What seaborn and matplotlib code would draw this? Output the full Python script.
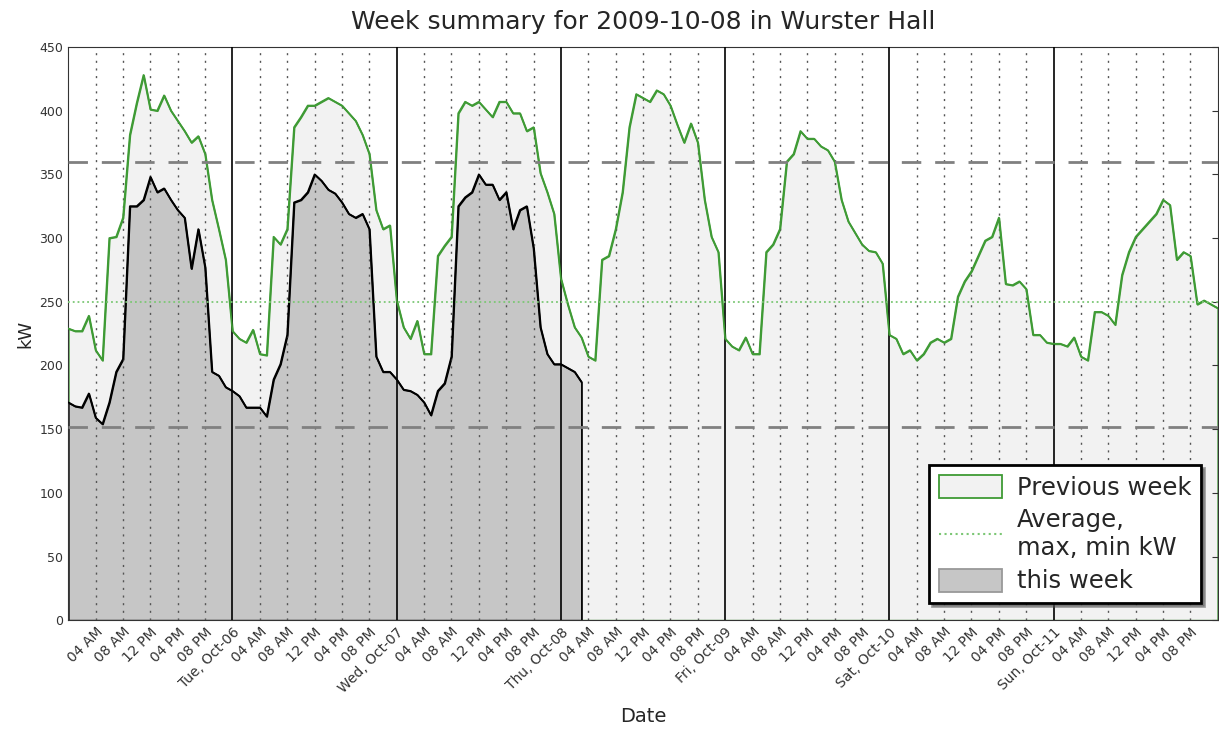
import numpy as np
import pandas as pd
import matplotlib
matplotlib.use("Agg")
import matplotlib.pyplot as plt
import matplotlib.dates as mdates
import matplotlib.ticker as mticker
from matplotlib.patches import Patch
from matplotlib.lines import Line2D
import seaborn as sns

sns.set_style("white")
plt.rcParams['font.family'] = ['DejaVu Sans']

# previous week, hourly kW (Mon 00:00 .. Mon 00:00 next week)
prev_mon = [229, 227, 227, 239, 212, 204, 300, 301, 316, 381, 406, 428, 401, 400, 412, 400, 392, 384, 375, 380, 366, 330, 307, 283]
prev_tue = [227, 221, 218, 228, 209, 208, 301, 295, 307, 387, 395, 404, 404, 407, 410, 407, 404, 398, 392, 381, 366, 322, 307, 310]
prev_wed = [251, 230, 221, 235, 209, 209, 286, 294, 301, 398, 407, 404, 407, 401, 395, 407, 407, 398, 398, 384, 387, 351, 336, 319]
prev_thu = [268, 248, 230, 222, 207, 204, 283, 286, 307, 336, 387, 413, 410, 407, 416, 413, 404, 389, 375, 390, 375, 330, 301, 289]
prev_fri = [221, 215, 212, 222, 209, 209, 289, 295, 307, 360, 366, 384, 378, 378, 372, 369, 360, 330, 313, 304, 295, 290, 289, 280]
prev_sat = [224, 221, 209, 212, 204, 209, 218, 221, 218, 221, 254, 266, 274, 286, 298, 301, 316, 264, 263, 266, 260, 224, 224, 218]
prev_sun = [217, 217, 215, 222, 207, 204, 242, 242, 239, 232, 271, 289, 301, 307, 313, 319, 330, 326, 283, 289, 286, 248, 251, 248]
prev_end = [245]

# this week, hourly kW (Mon 00:00 .. Thu 03:00)
this_mon = [171, 168, 167, 178, 159, 154, 171, 195, 205, 325, 325, 330, 348, 336, 339, 330, 322, 316, 276, 307, 277, 195, 192, 183]
this_tue = [180, 176, 167, 167, 167, 160, 189, 201, 224, 328, 330, 336, 350, 345, 338, 335, 328, 319, 316, 319, 307, 207, 195, 195]
this_wed = [189, 181, 180, 177, 171, 161, 180, 186, 207, 325, 332, 336, 350, 342, 342, 330, 336, 307, 322, 325, 292, 230, 209, 201]
this_thu = [201, 198, 195, 187]

avg_kw = 250
max_kw = 360
min_kw = 152

day_labels = ["Tue, Oct-06", "Wed, Oct-07", "Thu, Oct-08", "Fri, Oct-09", "Sat, Oct-10", "Sun, Oct-11"]

prev = prev_mon + prev_tue + prev_wed + prev_thu + prev_fri + prev_sat + prev_sun + prev_end
this = this_mon + this_tue + this_wed + this_thu

t_prev = pd.date_range("2009-10-05", periods=len(prev), freq="h")
t_this = pd.date_range("2009-10-05", periods=len(this), freq="h")
df_prev = pd.DataFrame({"time": t_prev, "kW": prev})
df_this = pd.DataFrame({"time": t_this, "kW": this})

green = "#3f9b35"
fig = plt.figure(figsize=(12.19, 7.34), dpi=100)
ax = fig.add_axes([0.056, 0.155, 0.943, 0.781])

ax.fill_between(df_prev["time"], 0, df_prev["kW"], facecolor="#f2f2f2",
                edgecolor=green, linewidth=1.3, zorder=1)
ax.fill_between(df_this["time"], 0, df_this["kW"], facecolor="#c6c6c6",
                edgecolor="black", linewidth=1.3, zorder=2)
sns.lineplot(data=df_prev, x="time", y="kW", color=green, linewidth=1.3, ax=ax, zorder=3)
sns.lineplot(data=df_this, x="time", y="kW", color="black", linewidth=1.3, ax=ax, zorder=3)

ax.axhline(max_kw, color="#808080", linestyle=(0, (7, 5)), linewidth=2, zorder=4)
ax.axhline(min_kw, color="#808080", linestyle=(0, (7, 5)), linewidth=2, zorder=4)
ax.axhline(avg_kw, color="#7cc775", linestyle=":", linewidth=1.3, zorder=4)

# day boundaries and 4-hour grid
days = pd.date_range("2009-10-06", periods=len(day_labels), freq="D")
ax.xaxis.set_major_locator(mticker.FixedLocator(mdates.date2num(days)))
ax.xaxis.set_major_formatter(mticker.FixedFormatter(day_labels))
ax.xaxis.set_minor_locator(mdates.HourLocator(byhour=[4, 8, 12, 16, 20]))
ax.xaxis.set_minor_formatter(mdates.DateFormatter("%I %p"))
ax.grid(which="major", axis="x", color="black", linestyle="-", linewidth=1.2, zorder=5)
ax.grid(which="minor", axis="x", color="#555555", linestyle=(0, (1.5, 4)), linewidth=1.0, zorder=5)
ax.grid(which="major", axis="y", visible=False)
ax.set_axisbelow(False)

ax.set_xlim(t_prev[0], t_prev[-1])
ax.set_ylim(0, 450)
ax.set_yticks(np.arange(0, 451, 50))

ax.tick_params(axis="both", which="both", direction="in", colors="#333333",
               top=False, right=True, length=4)
ax.tick_params(axis="y", labelsize=9)
ax.tick_params(axis="x", which="both", labelsize=10)
for lab in ax.get_xticklabels(which="both"):
    lab.set_rotation(45)
    lab.set_ha("right")
    lab.set_rotation_mode("anchor")
for sp in ax.spines.values():
    sp.set_color("#333333")

ax.set_xlabel("Date", fontsize=14, labelpad=8)
ax.set_ylabel("kW", fontsize=13)
ax.set_title("Week summary for 2009-10-08 in Wurster Hall", fontsize=18, pad=13)

handles = [Patch(facecolor="#f2f2f2", edgecolor=green, linewidth=1.3),
           Line2D([0], [0], color="#7cc775", linestyle=":", linewidth=1.5),
           Patch(facecolor="#c6c6c6", edgecolor="#999999", linewidth=1.3)]
leg = ax.legend(handles, ["Previous week", "Average,\nmax, min kW", "this week"],
                loc="lower right", fontsize=17.5, frameon=True, fancybox=False,
                shadow=True, framealpha=1, edgecolor="black", borderaxespad=0.7,
                handlelength=2.6, handleheight=1.1, handletextpad=0.6,
                labelspacing=0.35, borderpad=0.4)
leg.get_frame().set_linewidth(2)
leg.set_zorder(10)

fig.savefig("out.png", dpi=100)
